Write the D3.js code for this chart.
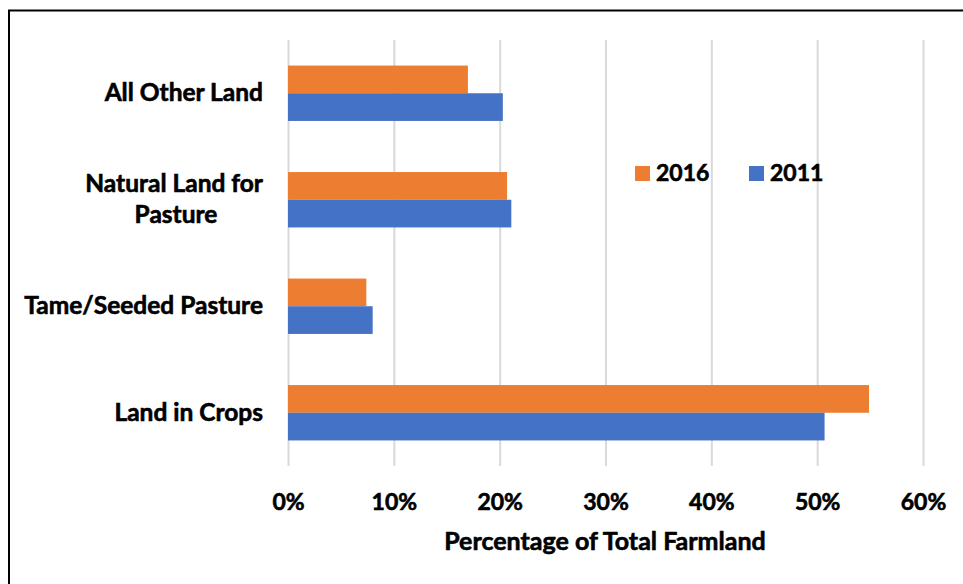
<!DOCTYPE html>
<html>
<head>
<meta charset="utf-8">
<script src="https://cdn.jsdelivr.net/npm/d3@7"></script>
<style>
  body { margin: 0; background: #fff; }
  text { font-family: Lato, "Open Sans", sans-serif; font-weight: bold; fill: #000; stroke: #000; stroke-width: 0.6px; }
</style>
</head>
<body>
<div id="chart"></div>
<script>
// data
var categories = ["All Other Land", "Natural Land for Pasture", "Tame/Seeded Pasture", "Land in Crops"]
var labelLines = [["All Other Land"], ["Natural Land for", "Pasture"], ["Tame/Seeded Pasture"], ["Land in Crops"]]
var years = ["2016", "2011"]
var values2016 = [0.170, 0.207, 0.074, 0.549]
var values2011 = [0.203, 0.211, 0.080, 0.507]
var tickValues = [0, 0.1, 0.2, 0.3, 0.4, 0.5, 0.6]

var width = 963,
    height = 584

var svg = d3.select("#chart")
  .append("svg")
    .attr("width", width)
    .attr("height", height)

// frame round the chart (runs off the right and bottom edge)
svg.append("rect")
  .attr("x", 9).attr("y", 10.5)
  .attr("width", 1000).attr("height", 1000)
  .attr("fill", "none")
  .attr("stroke", "#000")
  .attr("stroke-width", 2)

var plotTop = 40, plotBottom = 466, plotLeft = 288, plotRight = 923

var x = d3.scaleLinear().domain([0, 0.6]).range([plotLeft, plotRight])

var y = d3.scaleBand()
  .domain(categories)
  .range([plotTop, plotBottom])
  .paddingInner(0.48)
  .paddingOuter(0.24)

var ySub = d3.scaleBand().domain(years).range([0, y.bandwidth()])

var color = d3.scaleOrdinal().domain(years).range(["#ED7D31", "#4472C4"])

// gridlines + tick labels
var axis = svg.append("g")
  .attr("transform", "translate(0," + plotBottom + ")")
  .call(d3.axisBottom(x)
    .tickValues(tickValues)
    .tickFormat(d3.format(".0%"))
    .tickSize(-(plotBottom - plotTop)))
axis.select(".domain").remove()
axis.selectAll(".tick line").attr("stroke", "#d9d9d9").attr("stroke-width", 2)
axis.selectAll(".tick text")
  .attr("y", 44).attr("dy", null)
  .style("font-size", "23px")
  .style("font-family", "Lato, sans-serif")
  .style("font-weight", "bold")
  .attr("fill", "#000")

// bars
var rows = categories.map(function(c, i) {
  return {cat: c, vals: [{key: "2016", value: values2016[i]}, {key: "2011", value: values2011[i]}]}
})

var groups = svg.selectAll("g.row")
  .data(rows)
  .enter()
  .append("g")
    .attr("class", "row")
    .attr("transform", function(d) { return "translate(0," + y(d.cat) + ")" })

groups.selectAll("rect")
  .data(function(d) { return d.vals })
  .enter()
  .append("rect")
    .attr("x", x(0))
    .attr("y", function(d) { return ySub(d.key) })
    .attr("width", function(d) { return x(d.value) - x(0) })
    .attr("height", ySub.bandwidth())
    .attr("fill", function(d) { return color(d.key) })

// category labels
var lineH = 31
svg.selectAll("text.cat")
  .data(categories)
  .enter()
  .append("text")
    .attr("class", "cat")
    .attr("text-anchor", "end")
    .style("font-size", "24.5px")
    .each(function(d, i) {
      var lines = labelLines[i]
      var cy = y(d) + y.bandwidth() / 2
      var first = cy + 8 - (lines.length - 1) * lineH / 2
      var t = d3.select(this)
      lines.forEach(function(l, j) {
        t.append("tspan")
          .attr("x", lines.length > 1 && j > 0 ? 176 : 263)
          .attr("text-anchor", lines.length > 1 && j > 0 ? "middle" : "end")
          .attr("y", first + j * lineH)
          .text(l)
      })
    })

// axis title
svg.append("text")
  .attr("x", 605)
  .attr("y", 550)
  .attr("text-anchor", "middle")
  .style("font-size", "25px")
  .text("Percentage of Total Farmland")

// legend
var legendX = [635, 749]
var legend = svg.selectAll("g.legend")
  .data(years)
  .enter()
  .append("g")
    .attr("class", "legend")
    .attr("transform", function(d, i) { return "translate(" + legendX[i] + ",166)" })
legend.append("rect")
  .attr("width", 15).attr("height", 15)
  .attr("fill", function(d) { return color(d) })
legend.append("text")
  .attr("x", 21).attr("y", 15)
  .style("font-size", "23px")
  .text(function(d) { return d })
</script>
</body>
</html>
